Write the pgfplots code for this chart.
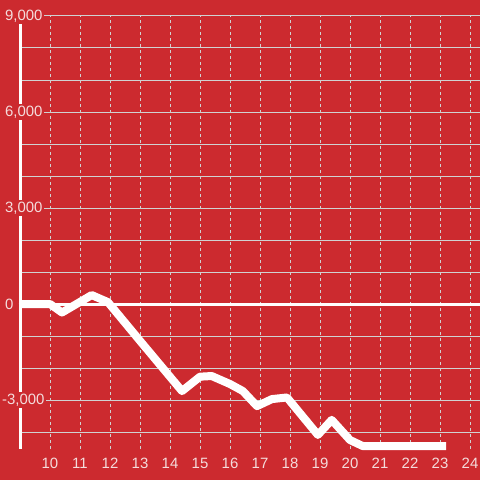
\documentclass[border=0pt]{standalone}
\usepackage{pgfplots}
\pgfplotsset{compat=1.18}
\usepackage{fontspec}
\setmainfont{Liberation Sans}

\definecolor{bg}{HTML}{CC2A2F}
\definecolor{grd}{HTML}{D0D2D2}
\definecolor{lbl}{HTML}{F4DCDC}

\begin{document}
\begin{tikzpicture}
% background, also the page size
\fill[bg] (-20bp,-31bp) rectangle (460bp,449bp);
\useasboundingbox (-20bp,-31bp) rectangle (460bp,449bp);
\begin{axis}[
    at={(0,0)}, anchor=south west,
    scale only axis,
    width=460bp, height=433bp,
    xmin=9, xmax=24.333,
    ymin=-4530, ymax=9000,
    clip=false,
    axis x line=bottom,
    axis y line=left,
    x axis line style={draw=none},
    y axis line style={-, white, line width=3bp},
    xtick={10,11,...,24},
    ytick={-3000,0,3000,6000,9000},
    yticklabels={{\hspace*{-3bp}-3,000},{0},{3,000},{6,000},{9,000}},
    minor ytick={-4000,-2000,-1000,1000,2000,4000,5000,7000,8000},
    xmajorgrids, ymajorgrids, yminorgrids,
    x grid style={grd, line width=1bp, dash pattern=on 3bp off 3bp},
    y grid style={grd, line width=1bp},
    tick style={draw=none},
    ticklabel style={font=\fontsize{15}{17}\selectfont, text=lbl},
    yticklabel style={anchor=west, fill=bg, inner sep=1.5bp, xshift=-14.5bp},
    xticklabel style={anchor=north, inner sep=0pt, yshift=-6.5bp},
    /pgf/number format/.cd, 1000 sep={,}, assume math mode=true,
  ]
  % zero line
  \addplot[white, line width=3bp, forget plot] coordinates {(8.95,0) (24.333,0)};
  % series
  \addplot[white, line width=8bp, line join=round] coordinates {
    (9,0) (10,0) (10.4,-265) (11.39,280) (11.93,60)
    (13.0,-1150) (14.4,-2720) (15.0,-2270) (15.39,-2250)
    (16.0,-2500) (16.43,-2720) (16.9,-3190) (17.4,-2970)
    (17.9,-2920) (18.93,-4090) (19.39,-3620) (20.0,-4250)
    (20.43,-4440) (23.2,-4440)
  };
\end{axis}
\end{tikzpicture}
\end{document}
